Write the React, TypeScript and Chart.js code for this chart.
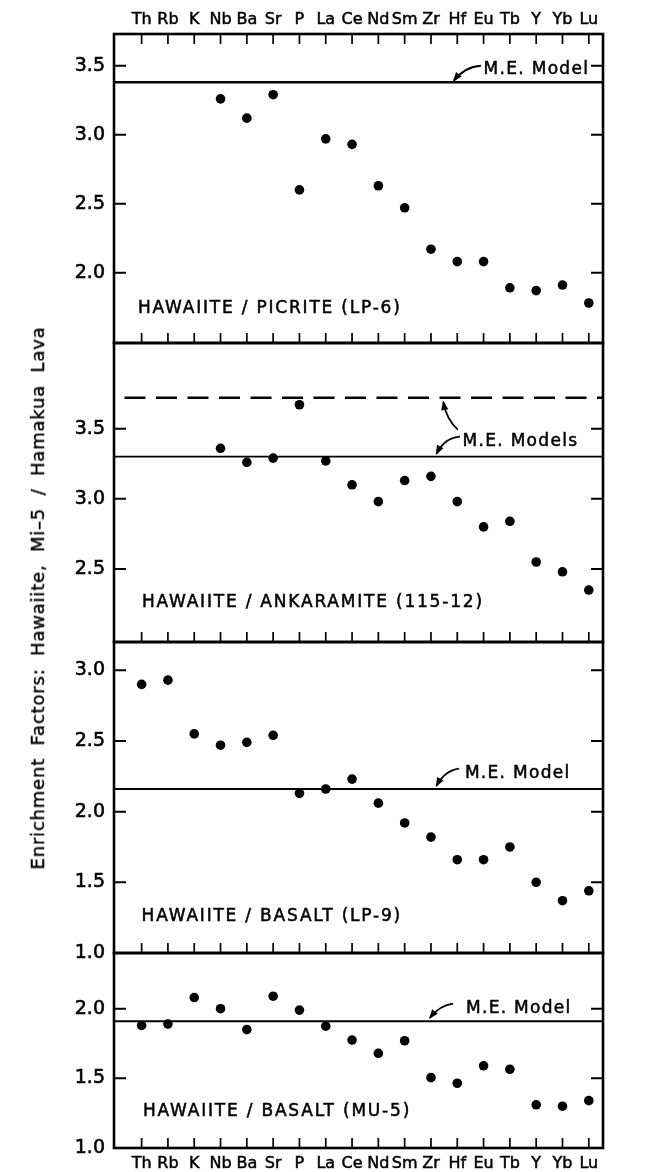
import React, { useEffect, useRef } from 'react';
import { Chart, registerables } from 'chart.js';

Chart.register(...registerables);

// ---------- data ----------
const ELEMENTS = ['Th', 'Rb', 'K', 'Nb', 'Ba', 'Sr', 'P', 'La', 'Ce', 'Nd', 'Sm', 'Zr', 'Hf', 'Eu', 'Tb', 'Y', 'Yb', 'Lu'];

const PICRITE_LP6 = [null, null, null, 3.26, 3.12, 3.29, 2.60, 2.97, 2.93, 2.63, 2.47, 2.17, 2.08, 2.08, 1.89, 1.87, 1.91, 1.78];
const ANKARAMITE_115_12 = [null, null, null, 3.36, 3.26, 3.29, 3.67, 3.27, 3.10, 2.98, 3.13, 3.16, 2.98, 2.80, 2.84, 2.55, 2.48, 2.35];
const BASALT_LP9 = [2.90, 2.93, 2.55, 2.47, 2.49, 2.54, 2.13, 2.16, 2.23, 2.06, 1.92, 1.82, 1.66, 1.66, 1.75, 1.50, 1.37, 1.44];
const BASALT_MU5 = [1.88, 1.89, 2.08, 2.00, 1.85, 2.09, 1.99, 1.875, 1.775, 1.68, 1.77, 1.505, 1.465, 1.59, 1.565, 1.31, 1.30, 1.34];

const MODEL_LP6 = [3.38];
const MODEL_115_12 = [3.30, 3.72];
const MODEL_LP9 = [2.16];
const MODEL_MU5 = [1.91];

const TICKS_LP6 = [2.0, 2.5, 3.0, 3.5];
const TICKS_115_12 = [2.5, 3.0, 3.5];
const TICKS_LP9 = [1.0, 1.5, 2.0, 2.5, 3.0];
const TICKS_MU5 = [1.0, 1.5, 2.0];

const LABELS = ['HAWAIITE / PICRITE (LP-6)', 'HAWAIITE / ANKARAMITE (115-12)', 'HAWAIITE / BASALT (LP-9)', 'HAWAIITE / BASALT (MU-5)'];
const Y_TITLE = 'Enrichment Factors:  Hawaiite, Mi\u20135 / Hamakua Lava';

const X_MIN = -1.05;
const X_MAX = 17.54;

// ---------- layout ----------
const W = 647;
const PLOT_LEFT = 114;
const PLOT_RIGHT = 603;
const EXT = 24;
const FONT = '"DejaVu Sans", "Liberation Sans", Arial, sans-serif';

type Pt = [number, number];
type PanelDef = {
  values: (number | null)[];
  models: number[];
  modelStyles: { width: number; dashed?: boolean }[];
  yMin: number;
  yMax: number;
  yTicks: number[];
  label: string;
  labelAt: Pt;
  note: string;
  noteAt: Pt;
  arrows: [Pt, Pt, Pt][];
  top: number;
  bottom: number;
  canvasTop: number;
  canvasBottom: number;
  xAxis: 'top' | 'bottom' | null;
  topTicks: boolean;
};

const PANELS: PanelDef[] = [
  {
    values: PICRITE_LP6, models: MODEL_LP6, modelStyles: [{ width: 2.6 }],
    yMin: 1.49, yMax: 3.73, yTicks: TICKS_LP6,
    label: LABELS[0], labelAt: [-0.14, 1.743],
    note: 'M.E. Model', noteAt: [13.0, 3.47],
    arrows: [[[12.9, 3.5], [12.29, 3.493], [11.87, 3.392]]],
    top: 34, bottom: 343, canvasTop: 0, canvasBottom: 343 + EXT, xAxis: 'top', topTicks: true,
  },
  {
    values: ANKARAMITE_115_12, models: MODEL_115_12, modelStyles: [{ width: 1.8 }, { width: 2.3, dashed: true }],
    yMin: 1.98, yMax: 4.11, yTicks: TICKS_115_12,
    label: LABELS[1], labelAt: [0.01, 2.258],
    note: 'M.E. Models', noteAt: [12.2, 3.41],
    arrows: [
      [[12.02, 3.493], [11.59, 3.564], [11.47, 3.69]],
      [[12.1, 3.443], [11.53, 3.436], [11.21, 3.322]],
    ],
    top: 343, bottom: 642, canvasTop: 343 - EXT, canvasBottom: 642 + EXT, xAxis: null, topTicks: false,
  },
  {
    values: BASALT_LP9, models: MODEL_LP9, modelStyles: [{ width: 2.1 }],
    yMin: 1.0, yMax: 3.2, yTicks: TICKS_LP9,
    label: LABELS[2], labelAt: [0.0, 1.258],
    note: 'M.E. Model', noteAt: [12.29, 2.27],
    arrows: [[[12.07, 2.305], [11.53, 2.293], [11.21, 2.183]]],
    top: 642, bottom: 953, canvasTop: 642 - EXT, canvasBottom: 953 + EXT, xAxis: null, topTicks: false,
  },
  {
    values: BASALT_MU5, models: MODEL_MU5, modelStyles: [{ width: 2.1 }],
    yMin: 1.0, yMax: 2.4, yTicks: TICKS_MU5,
    label: LABELS[3], labelAt: [0.05, 1.261],
    note: 'M.E. Model', noteAt: [12.33, 2.0],
    arrows: [[[11.84, 2.036], [11.34, 2.024], [10.96, 1.935]]],
    top: 953, bottom: 1148, canvasTop: 953 - EXT, canvasBottom: 1172, xAxis: 'bottom', topTicks: false,
  },
];

function drawText(ctx: CanvasRenderingContext2D, s: string, x: number, y: number) {
  ctx.fillText(s, x, y);
  ctx.strokeText(s, x, y);
}

function framePlugin(p: PanelDef) {
  return {
    id: 'frame',
    afterDraw(chart: any) {
      const { ctx, chartArea: a, scales } = chart;
      const x = scales.x;
      const y = scales.y;
      ctx.save();
      ctx.strokeStyle = '#000';
      ctx.fillStyle = '#000';
      ctx.lineCap = 'butt';
      // frame
      ctx.lineWidth = 2.6;
      ctx.strokeRect(a.left, a.top, a.right - a.left, a.bottom - a.top);
      // x ticks (inward)
      ctx.lineWidth = 1.7;
      ELEMENTS.forEach((_, i) => {
        const px = x.getPixelForValue(i);
        ctx.beginPath();
        ctx.moveTo(px, a.bottom);
        ctx.lineTo(px, a.bottom - 10);
        ctx.stroke();
        if (p.topTicks) {
          ctx.beginPath();
          ctx.moveTo(px, a.top);
          ctx.lineTo(px, a.top + 10);
          ctx.stroke();
        }
      });
      // y ticks (inward, both sides)
      ctx.lineWidth = 2;
      p.yTicks.forEach((v) => {
        const py = y.getPixelForValue(v);
        if (py <= a.top + 2 || py >= a.bottom - 2) return;
        ctx.beginPath();
        ctx.moveTo(a.left, py);
        ctx.lineTo(a.left + 12, py);
        ctx.moveTo(a.right, py);
        ctx.lineTo(a.right - 12, py);
        ctx.stroke();
      });
      // panel label
      ctx.font = `17px ${FONT}`;
      ctx.textBaseline = 'middle';
      ctx.textAlign = 'left';
      ctx.lineWidth = 0.5;
      (ctx as any).letterSpacing = '1.8px';
      drawText(ctx, p.label, x.getPixelForValue(p.labelAt[0]), y.getPixelForValue(p.labelAt[1]));
      // model note
      (ctx as any).letterSpacing = '1.3px';
      drawText(ctx, p.note, x.getPixelForValue(p.noteAt[0]), y.getPixelForValue(p.noteAt[1]));
      (ctx as any).letterSpacing = '0px';
      // arrows
      ctx.lineWidth = 1.8;
      p.arrows.forEach(([s, c, t]) => {
        const sx = x.getPixelForValue(s[0]), sy = y.getPixelForValue(s[1]);
        const cx = x.getPixelForValue(c[0]), cy = y.getPixelForValue(c[1]);
        const tx = x.getPixelForValue(t[0]), ty = y.getPixelForValue(t[1]);
        ctx.beginPath();
        ctx.moveTo(sx, sy);
        ctx.quadraticCurveTo(cx, cy, tx, ty);
        ctx.stroke();
        const ang = Math.atan2(ty - cy, tx - cx);
        const len = 8, hw = 3.6;
        ctx.beginPath();
        ctx.moveTo(tx + Math.cos(ang) * 1.5, ty + Math.sin(ang) * 1.5);
        ctx.lineTo(tx - Math.cos(ang) * len - Math.sin(ang) * hw, ty - Math.sin(ang) * len + Math.cos(ang) * hw);
        ctx.lineTo(tx - Math.cos(ang) * len + Math.sin(ang) * hw, ty - Math.sin(ang) * len - Math.cos(ang) * hw);
        ctx.closePath();
        ctx.fill();
      });
      ctx.restore();
    },
  };
}

function PanelChart({ p }: { p: PanelDef }) {
  const ref = useRef<HTMLCanvasElement | null>(null);
  const h = p.canvasBottom - p.canvasTop;

  useEffect(() => {
    if (!ref.current) return;
    const points = p.values
      .map((v, i) => (v == null ? null : { x: i, y: v }))
      .filter((d) => d !== null) as { x: number; y: number }[];
    const modelSets = p.models.map((m, k) => {
      const st = p.modelStyles[k];
      return {
        type: 'line' as const,
        data: [{ x: X_MIN, y: m }, { x: X_MAX, y: m }],
        borderColor: '#000',
        borderWidth: st.width,
        borderDash: st.dashed ? [21, 10.5] : [],
        borderDashOffset: st.dashed ? 21 : 0,
        pointRadius: 0,
        fill: false,
        tension: 0,
      };
    });
    const padTop = p.xAxis === 'top' ? 0 : p.top - p.canvasTop;
    const padBottom = p.xAxis === 'bottom' ? 0 : p.canvasBottom - p.bottom;
    const chart = new Chart(ref.current, {
      type: 'scatter',
      data: {
        datasets: [
          {
            type: 'scatter',
            data: points,
            pointRadius: 4.8,
            pointBackgroundColor: '#000',
            pointBorderColor: '#000',
            pointBorderWidth: 0,
          } as any,
          ...(modelSets as any[]),
        ],
      },
      options: {
        animation: false,
        responsive: false,
        devicePixelRatio: 1,
        events: [],
        layout: { padding: { left: 0, right: W - PLOT_RIGHT, top: padTop, bottom: padBottom } },
        plugins: { legend: { display: false }, tooltip: { enabled: false } },
        scales: {
          x: {
            type: 'linear',
            min: X_MIN,
            max: X_MAX,
            position: p.xAxis ?? 'bottom',
            display: p.xAxis !== null,
            grid: { display: false, drawTicks: false },
            border: { display: false },
            ticks: {
              autoSkip: false,
              maxRotation: 0,
              minRotation: 0,
              padding: p.xAxis === 'top' ? 5 : 6,
              color: '#000',
              textStrokeColor: '#000',
              textStrokeWidth: 0.5,
              font: { family: FONT, size: 16 },
              callback: (v: any) => ELEMENTS[Math.round(Number(v))] ?? '',
            },
            afterBuildTicks: (s: any) => {
              s.ticks = ELEMENTS.map((_, i) => ({ value: i }));
            },
            afterFit: (s: any) => {
              if (p.xAxis === 'top') s.height = p.top - p.canvasTop;
              if (p.xAxis === 'bottom') s.height = p.canvasBottom - p.bottom;
            },
          },
          y: {
            type: 'linear',
            min: p.yMin,
            max: p.yMax,
            grid: { display: false, drawTicks: false },
            border: { display: false },
            ticks: {
              padding: 9,
              color: '#000',
              textStrokeColor: '#000',
              textStrokeWidth: 0.6,
              font: { family: FONT, size: 19 },
              callback: (v: any) => Number(v).toFixed(1),
            },
            afterBuildTicks: (s: any) => {
              s.ticks = p.yTicks.map((v) => ({ value: v }));
            },
            afterFit: (s: any) => {
              s.width = PLOT_LEFT;
            },
          },
        },
      },
      plugins: [framePlugin(p)],
    });
    return () => chart.destroy();
  }, [p]);

  return (
    <canvas
      ref={ref}
      width={W}
      height={h}
      style={{ position: 'absolute', left: 0, top: p.canvasTop, width: W, height: h, display: 'block' }}
    />
  );
}

export default function App() {
  return (
    <div style={{ position: 'absolute', left: 0, top: 0, width: W, height: 1172, background: '#fff', overflow: 'hidden' }}>
      {PANELS.map((p, i) => (
        <PanelChart key={i} p={p} />
      ))}
      <div
        style={{
          position: 'absolute',
          left: 38,
          top: 598,
          transform: 'translate(-50%, -50%) rotate(-90deg)',
          whiteSpace: 'nowrap',
          fontFamily: FONT,
          fontSize: 18,
          lineHeight: '18px',
          letterSpacing: 0.8,
          wordSpacing: 6,
          WebkitTextStroke: '0.4px #000',
          color: '#000',
        }}
      >
        {Y_TITLE}
      </div>
    </div>
  );
}
